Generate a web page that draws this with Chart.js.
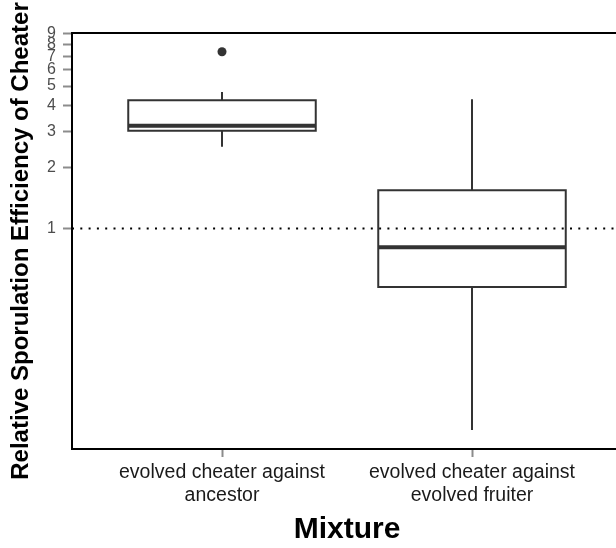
<!DOCTYPE html>
<html><head><meta charset="utf-8">
<script src="https://cdn.jsdelivr.net/npm/chart.js@4/dist/chart.umd.min.js"></script>
<style>
html,body{margin:0;padding:0;background:#fff;overflow:hidden;}
#wrap{width:616px;height:548px;overflow:hidden;position:relative;background:#fff;}
canvas{display:block;}
</style>
</head><body>
<div id="wrap"><canvas id="c" width="640" height="548"></canvas></div>
<script>
// ---- data ----
const categories = [["evolved cheater against", "ancestor"], ["evolved cheater against", "evolved fruiter"]];
const whiskerLow  = [2.52, 0.103];
const quartile1   = [3.02, 0.517];
const medians     = [3.19, 0.811];
const quartile3   = [4.26, 1.54];
const whiskerHigh = [4.68, 4.31];
const outliers    = [[7.36], []];
const yTickValues = [1, 2, 3, 4, 5, 6, 7, 8, 9];
const referenceValue = 1;
const xTitle = "Mixture";
const yTitle = "Relative Sporulation Efficiency of Cheater";

// ---- styling / layout ----
const xRange = [0.4, 2.6];
const yRange = [0.083, 9.1];
const boxHalfWidth = 0.375;
const FONT = "'Liberation Sans', Arial, Helvetica, sans-serif";
const LINE = '#333333';

const boxPts = [], medPts = [], whiskPts = [], outPts = [];
categories.forEach((cat, i) => {
  const c = i + 1;
  boxPts.push({x: c - boxHalfWidth, y: quartile1[i]}, {x: c + boxHalfWidth, y: quartile1[i]},
              {x: c + boxHalfWidth, y: quartile3[i]}, {x: c - boxHalfWidth, y: quartile3[i]},
              {x: c - boxHalfWidth, y: quartile1[i]}, {x: c + boxHalfWidth, y: quartile1[i]},
              {x: c, y: null});
  medPts.push({x: c - boxHalfWidth, y: medians[i]}, {x: c + boxHalfWidth, y: medians[i]}, {x: c, y: null});
  whiskPts.push({x: c, y: quartile3[i]}, {x: c, y: whiskerHigh[i]}, {x: c, y: null},
                {x: c, y: quartile1[i]}, {x: c, y: whiskerLow[i]}, {x: c, y: null});
  outliers[i].forEach(v => outPts.push({x: c, y: v}));
});
const refPts = [{x: xRange[0], y: referenceValue}, {x: xRange[1], y: referenceValue}];

const topBorder = {
  id: 'topBorder',
  afterDraw(chart) {
    const {ctx, chartArea} = chart;
    ctx.save();
    ctx.strokeStyle = '#000';
    ctx.lineWidth = 2;
    ctx.beginPath();
    ctx.moveTo(chartArea.left - 1, chartArea.top);
    ctx.lineTo(chartArea.right, chartArea.top);
    ctx.stroke();
    ctx.restore();
  }
};

new Chart(document.getElementById('c'), {
  type: 'line',
  data: {
    datasets: [
      {label: 'median', data: medPts, borderColor: LINE, borderWidth: 4, pointRadius: 0, spanGaps: false, fill: false, borderCapStyle: 'butt'},
      {label: 'box', data: boxPts, borderColor: LINE, borderWidth: 2, pointRadius: 0, spanGaps: false, fill: false, borderJoinStyle: 'miter'},
      {label: 'whisker', data: whiskPts, borderColor: LINE, borderWidth: 2, pointRadius: 0, spanGaps: false, fill: false},
      {label: 'outlier', data: outPts, showLine: false, pointRadius: 4.5, pointBackgroundColor: LINE, pointBorderWidth: 0, pointBorderColor: LINE},
      {label: 'reference', data: refPts, borderColor: '#000', borderWidth: 2, borderDash: [2, 6.3], pointRadius: 0, fill: false}
    ]
  },
  options: {
    responsive: false,
    devicePixelRatio: 1,
    animation: false,
    events: [],
    layout: {padding: {top: 33, right: 18, bottom: 0, left: 0}},
    plugins: {legend: {display: false}, tooltip: {enabled: false}},
    elements: {line: {tension: 0}},
    scales: {
      x: {
        type: 'linear',
        min: xRange[0], max: xRange[1],
        afterBuildTicks: s => { s.ticks = categories.map((c, i) => ({value: i + 1})); },
        afterFit: s => { s.height = 99; },
        ticks: {
          autoSkip: false, maxRotation: 0, minRotation: 0,
          padding: 4, color: '#1a1a1a',
          font: {family: FONT, size: 19.5},
          callback: v => categories[Math.round(v) - 1]
        },
        grid: {drawOnChartArea: false, drawTicks: true, tickLength: 8, tickWidth: 2, tickColor: '#8c8c8c'},
        border: {display: true, color: '#000', width: 2},
        title: {display: true, text: xTitle, color: '#000', font: {family: FONT, size: 30, weight: 'bold'}, padding: {top: 0, bottom: 0}}
      },
      y: {
        type: 'logarithmic',
        min: yRange[0], max: yRange[1],
        afterBuildTicks: s => { s.ticks = yTickValues.map(v => ({value: v})); },
        afterFit: s => { s.width = 72; },
        ticks: {
          autoSkip: false, padding: 7, color: '#4d4d4d',
          font: {family: FONT, size: 16},
          callback: v => String(v)
        },
        grid: {drawOnChartArea: false, drawTicks: true, tickLength: 9, tickWidth: 2, tickColor: '#8c8c8c'},
        border: {display: true, color: '#000', width: 2},
        title: {display: true, text: yTitle, color: '#000', font: {family: FONT, size: 24, weight: 'bold'}, padding: {top: 7, bottom: 0}}
      }
    }
  },
  plugins: [topBorder]
});
</script>
</body></html>
